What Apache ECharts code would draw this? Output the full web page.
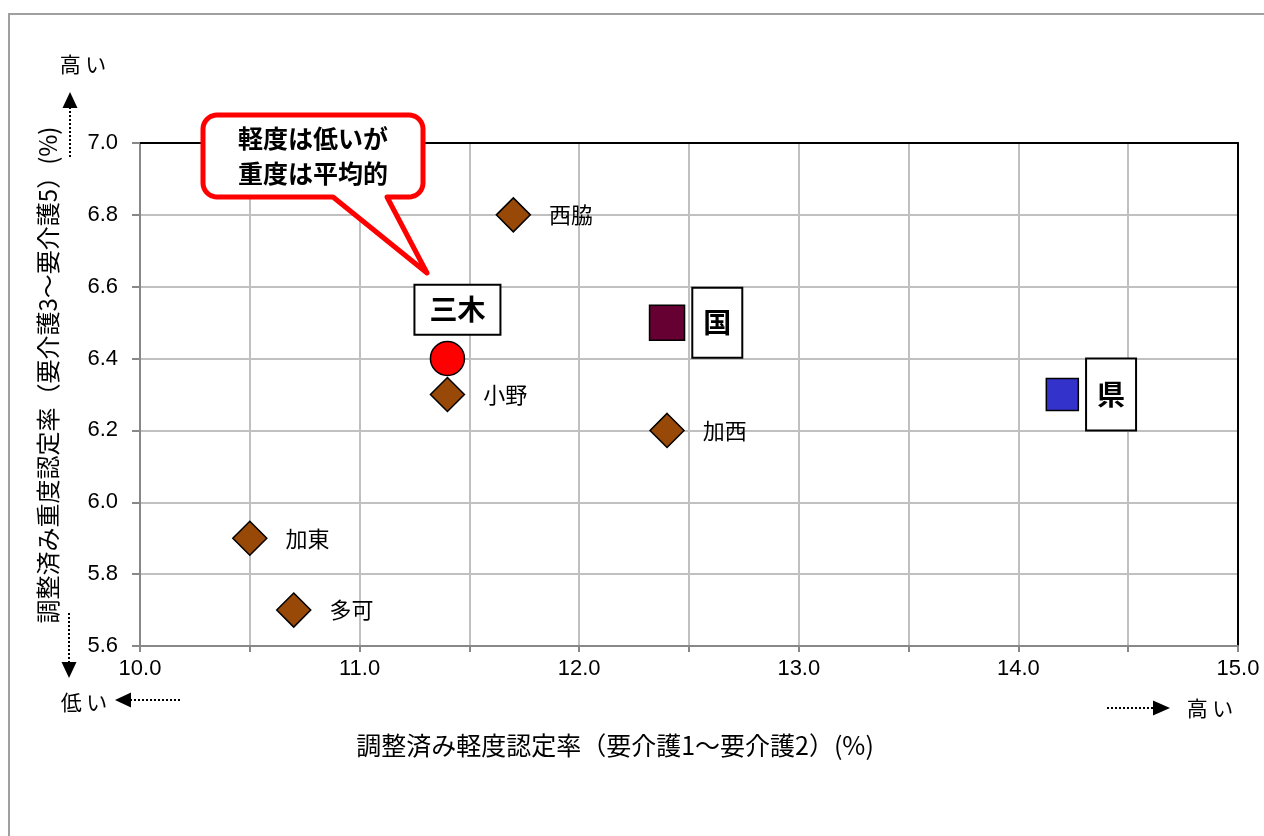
<!DOCTYPE html>
<html><head><meta charset="utf-8">
<script src="https://cdn.jsdelivr.net/npm/echarts@6/dist/echarts.min.js"></script>
<style>html,body{margin:0;padding:0;background:#fff}#c{width:1264px;height:836px}</style>
</head><body><div id="c"></div>
<script>
// ---- data ----
var cityNames = ['西脇', '小野', '加西', '加東', '多可'];
var cityX = [11.7, 11.4, 12.4, 10.5, 10.7];
var cityY = [6.8, 6.3, 6.2, 5.9, 5.7];
var mikiName = '三木', mikiX = 11.4, mikiY = 6.4;
var kuniName = '国', kuniX = 12.4, kuniY = 6.5;
var kenName = '県', kenX = 14.2, kenY = 6.3;
var xTicks = [10, 15, 0.5];   // min, max, interval
var yTicks = [5.6, 7.0, 0.2];
var xTitle = '調整済み軽度認定率（要介護1～要介護2）(%)';
var yTitle = '調整済み重度認定率（要介護3～要介護5）(%)';
var calloutText = '軽度は低いが\n重度は平均的';

var FONT = '"Noto Sans CJK JP", "Noto Sans", sans-serif';
var NUMFONT = '"Liberation Sans", Arial, sans-serif';

function calloutPoints(x0, y0, x1, y1, r, baseR, tip, baseL) {
  var pts = [], n = 8;
  function arc(cx, cy, a0, a1) {
    for (var i = 0; i <= n; i++) {
      var a = (a0 + (a1 - a0) * i / n) * Math.PI / 180;
      pts.push([cx + r * Math.cos(a), cy + r * Math.sin(a)]);
    }
  }
  arc(x0 + r, y0 + r, 180, 270);
  arc(x1 - r, y0 + r, 270, 360);
  arc(x1 - r, y1 - r, 0, 90);
  pts.push([baseR, y1]); pts.push(tip); pts.push([baseL, y1]);
  arc(x0 + r, y1 - r, 90, 180);
  return pts;
}

var chart = echarts.init(document.getElementById('c'));
var boxLabel = function (pos, dist, pad, off) {
  return {
    show: true, position: pos, distance: dist, offset: off || [0, 0],
    formatter: '{b}', color: '#000', fontFamily: FONT, fontWeight: 'bold', fontSize: 28, lineHeight: 28,
    backgroundColor: '#fff', borderColor: '#000', borderWidth: 2, padding: pad
  };
};
var frameAxis = { show: true, lineStyle: { color: '#000', width: 2 } };
var option = {
  backgroundColor: '#fff',
  animation: false,
  grid: { left: 140, right: 26, top: 143, bottom: 190, show: false },
  xAxis: [{
    type: 'value', min: xTicks[0], max: xTicks[1], interval: xTicks[2],
    axisLine: { show: true, lineStyle: { color: '#888', width: 2 } },
    axisTick: { show: true, length: 6, lineStyle: { color: '#888', width: 2 } },
    splitLine: { show: true, lineStyle: { color: '#c0c0c0', width: 2 } },
    axisLabel: { color: '#000', fontFamily: NUMFONT, fontSize: 22, margin: 12,
      formatter: function (v) { return Math.abs(v - Math.round(v)) < 1e-6 ? v.toFixed(1) : ''; } }
  }, {
    type: 'value', position: 'top', min: xTicks[0], max: xTicks[1], interval: xTicks[2],
    axisLine: frameAxis, axisTick: { show: false }, axisLabel: { show: false }, splitLine: { show: false }
  }],
  yAxis: [{
    type: 'value', min: yTicks[0], max: yTicks[1], interval: yTicks[2],
    axisLine: { show: true, lineStyle: { color: '#888', width: 2 } },
    axisTick: { show: true, length: 8, lineStyle: { color: '#888', width: 2 } },
    splitLine: { show: true, lineStyle: { color: '#c0c0c0', width: 2 } },
    axisLabel: { color: '#000', fontFamily: NUMFONT, fontSize: 22, margin: 22,
      formatter: function (v) { return v.toFixed(1); } }
  }, {
    type: 'value', position: 'right', min: yTicks[0], max: yTicks[1], interval: yTicks[2],
    axisLine: frameAxis, axisTick: { show: false }, axisLabel: { show: false }, splitLine: { show: false }
  }],
  series: [
    {
      type: 'scatter', symbol: 'diamond', symbolSize: 34,
      itemStyle: { color: '#984807', borderColor: '#000', borderWidth: 1.5, opacity: 1 },
      label: { show: true, position: 'right', distance: 18, formatter: '{b}', color: '#000', fontFamily: FONT, fontSize: 22 },
      data: cityNames.map(function (n, i) { return { name: n, value: [cityX[i], cityY[i]] }; }),
      z: 3
    },
    {
      type: 'scatter', symbol: 'circle', symbolSize: 34,
      itemStyle: { color: '#ff0000', borderColor: '#000', borderWidth: 1.5, opacity: 1 },
      label: boxLabel('top', 7, [10, 14], [10, 0]),
      data: [{ name: mikiName, value: [mikiX, mikiY] }], z: 4
    },
    {
      type: 'scatter', symbol: 'rect', symbolSize: 35,
      itemStyle: { color: '#660033', borderColor: '#000', borderWidth: 1.5, opacity: 1 },
      label: boxLabel('right', 8, [20, 10]),
      data: [{ name: kuniName, value: [kuniX, kuniY] }], z: 4
    },
    {
      type: 'scatter', symbol: 'rect', symbolSize: 32,
      itemStyle: { color: '#3333cc', borderColor: '#000', borderWidth: 1.5, opacity: 1 },
      label: boxLabel('right', 8, [21, 10]),
      data: [{ name: kenName, value: [kenX, kenY] }], z: 4
    }
  ],
  graphic: [
    { type: 'rect', shape: { x: 9, y: 14, width: 1400, height: 1000 }, style: { fill: 'none', stroke: '#a0a0a0', lineWidth: 2 }, silent: true, z: -10 },
    // callout
    { type: 'polygon', shape: { points: calloutPoints(203, 115, 423, 197, 14, 387, [427, 273], 333) },
      style: { fill: '#fff', stroke: '#ff0000', lineWidth: 5, lineJoin: 'round' }, z: 100 },
    { type: 'text', x: 313, y: 156, z: 101,
      style: { text: calloutText, fontFamily: FONT, fontWeight: 'bold', fontSize: 25, lineHeight: 35, fill: '#000', align: 'center', verticalAlign: 'middle' } },
    // axis titles
    { type: 'text', x: 615, y: 745, z: 50,
      style: { text: xTitle, fontFamily: FONT, fontSize: 25, fill: '#000', align: 'center', verticalAlign: 'middle' } },
    { type: 'text', x: 48, y: 375, rotation: Math.PI / 2, z: 50,
      style: { text: yTitle, fontFamily: FONT, fontSize: 24, fill: '#000', align: 'center', verticalAlign: 'middle' } },
    // direction indicators
    { type: 'text', x: 83, y: 64, style: { text: '高 い', fontFamily: FONT, fontSize: 21, fill: '#000', align: 'center', verticalAlign: 'middle' } },
    { type: 'line', shape: { x1: 70, y1: 157, x2: 70, y2: 107 }, style: { stroke: '#000', lineWidth: 2, lineDash: [2, 2] } },
    { type: 'polygon', shape: { points: [[70, 92], [62.5, 108], [77.5, 108]] }, style: { fill: '#000' } },
    { type: 'line', shape: { x1: 69, y1: 613, x2: 69, y2: 663 }, style: { stroke: '#000', lineWidth: 2, lineDash: [2, 2] } },
    { type: 'polygon', shape: { points: [[69, 678], [61.5, 662], [76.5, 662]] }, style: { fill: '#000' } },
    { type: 'text', x: 84, y: 702, style: { text: '低 い', fontFamily: FONT, fontSize: 21, fill: '#000', align: 'center', verticalAlign: 'middle' } },
    { type: 'line', shape: { x1: 180, y1: 700, x2: 129, y2: 700 }, style: { stroke: '#000', lineWidth: 2, lineDash: [2, 2] } },
    { type: 'polygon', shape: { points: [[115, 700], [131, 692.5], [131, 707.5]] }, style: { fill: '#000' } },
    { type: 'line', shape: { x1: 1107, y1: 708, x2: 1154, y2: 708 }, style: { stroke: '#000', lineWidth: 2, lineDash: [2, 2] } },
    { type: 'polygon', shape: { points: [[1170, 708], [1153, 700.5], [1153, 715.5]] }, style: { fill: '#000' } },
    { type: 'text', x: 1210, y: 708, style: { text: '高 い', fontFamily: FONT, fontSize: 21, fill: '#000', align: 'center', verticalAlign: 'middle' } }
  ]
};
chart.setOption(option);
</script>
</body></html>
